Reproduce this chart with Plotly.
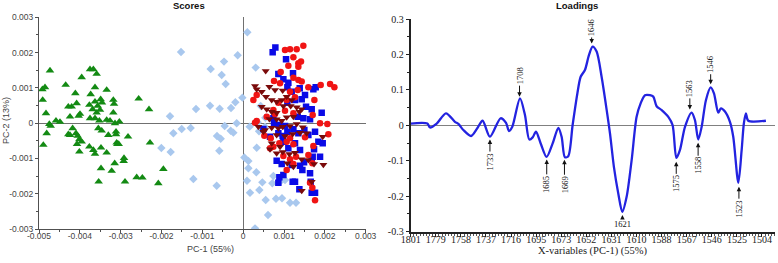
import plotly.graph_objects as go

# ---------------- Scores data (PC-1, PC-2) ----------------
green_x = [-0.004731, -0.004918, -0.004853, -0.004910, -0.004829, -0.004747, -0.004714, -0.004584, -0.004486, -0.004812,
           -0.004894, -0.004347, -0.004110, -0.004200, -0.004078, -0.004282, -0.003955, -0.004241, -0.003996, -0.004029,
           -0.004176, -0.004282, -0.004241, -0.004094, -0.004053, -0.004012, -0.003955, -0.004069, -0.004012, -0.003751,
           -0.003669, -0.003588, -0.003629, -0.003735, -0.003767, -0.003629, -0.003563, -0.003490, -0.003686, -0.003588,
           -0.003751, -0.003629, -0.003522, -0.003343, -0.003457, -0.003506, -0.003343, -0.003547, -0.003465, -0.003767,
           -0.003669, -0.003629, -0.003482, -0.003343, -0.003482, -0.003539, -0.003302, -0.003180, -0.003163, -0.003180,
           -0.003261, -0.003139, -0.003114, -0.003114, -0.003033, -0.003098, -0.003082, -0.003049, -0.003147, -0.003220,
           -0.002918, -0.002927, -0.002820, -0.002894, -0.002608, -0.002469, -0.002559, -0.002306, -0.002282, -0.002078,
           -0.001955]
green_y = [0.001489, 0.000959, 0.001016, 0.000657, 0.000279, -0.000024, -0.000080, 0.000071, 0.000033, -0.000288,
           -0.000619, 0.001082, 0.000846, 0.000468, 0.000562, 0.000468, 0.001300, 0.000184, 0.000260, 0.000203,
           -0.000147, -0.000317, -0.000336, -0.000288, -0.000364, -0.000458, -0.000525, -0.000591, -0.000808, 0.001526,
           0.001526, 0.001394, 0.001016, 0.000818, 0.000515, 0.000610, 0.000487, 0.000676, 0.000392, 0.000298,
           0.000137, 0.000137, 0.000071, 0.000940, 0.000581, 0.000373, 0.000090, -0.000147, -0.000213, -0.000666,
           -0.000761, -0.000874, -0.000695, -0.000836, -0.001281, -0.001659, -0.000336, 0.000657, 0.000543, 0.000298,
           0.000071, -0.000005, -0.000241, -0.000317, 0.000043, -0.000553, -0.000591, -0.000591, -0.001139, -0.001356,
           -0.000988, -0.001073, -0.000383, -0.001659, -0.001536, -0.001545, 0.000695, 0.000392, -0.000553, -0.001706,
           -0.001300]

lblue_x = [0.000102, -0.001522, -0.000135, -0.000469, -0.000796, -0.000527, -0.000429, 0.000306, -0.001155, -0.000812,
           -0.000576, -0.000298, -0.000192, -0.000020, 0.000429, -0.001792, -0.001506, -0.001286, -0.001710, -0.002004,
           -0.001776, -0.000159, -0.000453, -0.000306, -0.000241, 0.000159, 0.000355, 0.000543, 0.000535, 0.000388,
           -0.000641, -0.000551, -0.000584, 0.000331, 0.000029, 0.000127, 0.000127, 0.000322, 0.000094, 0.000469,
           0.000714, -0.001220, -0.000649, 0.000167, 0.000396, 0.000551, 0.000804, 0.000951, 0.001147, 0.001294,
           0.000608, 0.000290, 0.000739, 0.000902, 0.001024]
lblue_y = [0.002576, 0.002018, 0.001923, 0.001744, 0.001536, 0.001366, 0.001111, 0.001574, 0.000402, 0.000496,
           0.000411, 0.000430, 0.000591, 0.000723, 0.000487, 0.000194, -0.000165, -0.000137, -0.000288, -0.000704,
           -0.000817, -0.000005, -0.000080, -0.000213, -0.000269, -0.000099, 0.000024, 0.000156, -0.000099, -0.000232,
           -0.000364, -0.000440, -0.000780, -0.000695, -0.000974, -0.001073, -0.001281, -0.001394, -0.001630, -0.001678,
           -0.001706, -0.001583, -0.001772, -0.001971, -0.001895, -0.002179, -0.002141, -0.002131, -0.002254, -0.002254,
           -0.002604, -0.002982, -0.001498, -0.001659, -0.001612]

blue_x = [0.000788, 0.000722, 0.001049, 0.000861, 0.001220, 0.000984, 0.001106, 0.001082, 0.001188, 0.001384,
          0.001514, 0.001718, 0.001776, 0.001269, 0.001433, 0.001082, 0.001539, 0.001678, 0.001922, 0.001335,
          0.001473, 0.001637, 0.000739, 0.000755, 0.000902, 0.001024, 0.000494, 0.000657, 0.000861, 0.000967,
          0.001082, 0.001229, 0.001351, 0.001498, 0.001596, 0.001759, 0.001841, 0.001947, 0.000984, 0.001106,
          0.001269, 0.001392, 0.001702, 0.001882, 0.000820, 0.000943, 0.001188, 0.001392, 0.001490, 0.001678,
          0.001449, 0.001637, 0.001735, 0.000984, 0.000886, 0.000861, 0.001212, 0.001269, 0.001376, 0.001678,
          0.001759, 0.001653]
blue_y = [0.002141, 0.002008, 0.001810, 0.001394, 0.001413, 0.001243, 0.001148, 0.001016, 0.000893, 0.000988,
          0.000799, 0.000959, 0.001016, 0.000657, 0.000676, 0.000581, 0.000468, 0.000392, 0.000298, 0.000184,
          0.000137, 0.000109, 0.000137, -0.000024, -0.000052, -0.000080, -0.000165, -0.000383, -0.000288, -0.000364,
          -0.000241, -0.000175, -0.000288, -0.000194, -0.000336, -0.000241, -0.000525, -0.000572, -0.000525, -0.000714,
          -0.000572, -0.000761, -0.000950, -0.000950, -0.001063, -0.001158, -0.001186, -0.001205, -0.001111, -0.000997,
          -0.001328, -0.001422, -0.000742, -0.001470, -0.001536, -0.001687, -0.001659, -0.001659, -0.001876, -0.001971,
          -0.001971, -0.001659]

red_x = [0.001024, 0.001147, 0.001310, 0.001473, 0.001229, 0.001351, 0.001416, 0.001351, 0.001106, 0.000918,
         0.000755, 0.000902, 0.001229, 0.001351, 0.001433, 0.001147, 0.001335, 0.001596, 0.001898, 0.002127,
         0.002233, 0.001743, 0.001269, 0.001065, 0.000861, 0.000739, 0.001024, 0.001229, 0.001702, 0.001882,
         0.002061, 0.000331, 0.000290, 0.000576, 0.000780, 0.000518, 0.000673, 0.000739, 0.000657, 0.000886,
         0.001065, 0.001147, 0.001229, 0.001514, 0.001718, 0.002086, 0.000984, 0.001147, 0.001229, 0.001294,
         0.001596, 0.001694, 0.001065, 0.001637, 0.001694, 0.001759, 0.000249, 0.000331]
red_y = [0.002074, 0.002093, 0.002093, 0.002197, 0.001867, 0.001697, 0.001744, 0.001602, 0.001630, 0.001451,
         0.001196, 0.001129, 0.001290, 0.001224, 0.001177, 0.000893, 0.000940, 0.001016, 0.001082, 0.001111,
         0.001016, 0.000657, 0.000733, 0.000657, 0.000581, 0.000373, 0.000354, 0.000279, 0.000232, -0.000005,
         -0.000024, 0.000061, 0.000014, 0.000184, 0.000260, -0.000354, -0.000430, -0.000666, -0.000714, -0.000572,
         -0.000525, -0.000430, -0.000600, -0.000402, -0.000647, -0.000317, -0.000931, -0.001026, -0.001158, -0.000950,
         -0.000903, -0.001139, -0.001328, -0.001687, -0.001829, -0.002188, 0.000657, 0.000799]

dred_x = [0.000551, 0.000290, 0.000331, 0.000453, 0.000641, 0.000780, 0.000967, 0.000559, 0.000698, 0.000820,
          0.000943, 0.001065, 0.001188, 0.000453, 0.000576, 0.000698, 0.000820, 0.000984, 0.001163, 0.001310,
          0.000641, 0.000820, 0.000943, 0.001065, 0.001229, 0.001376, 0.001433, 0.000371, 0.000535, 0.000698,
          0.000861, 0.000967, 0.001147, 0.001310, 0.001457, 0.000820, 0.001024, 0.001212, 0.001392, 0.001555,
          0.000657, 0.000820, 0.000967, 0.001131, 0.001269, 0.001433, 0.001596, 0.001735, 0.001963, 0.001947,
          0.001082, 0.001229, 0.001678, 0.001433, 0.000494, 0.000698, 0.000902]
dred_y = [0.001479, 0.001054, 0.000959, 0.000893, 0.001035, 0.000940, 0.000922, 0.000751, 0.000657, 0.000610,
          0.000657, 0.000751, 0.000657, 0.000468, 0.000392, 0.000326, 0.000298, 0.000487, 0.000487, 0.000449,
          0.000118, 0.000109, 0.000071, 0.000165, 0.000184, 0.000326, 0.000392, -0.000099, -0.000194, -0.000128,
          -0.000147, -0.000099, -0.000080, -0.000024, -0.000118, -0.000336, -0.000364, -0.000307, -0.000269, -0.000288,
          -0.000742, -0.000855, -0.000817, -0.000874, -0.000836, -0.001026, -0.001045, -0.001158, -0.001177, -0.000383,
          -0.001139, -0.001233, -0.001659, -0.001914, -0.000241, -0.000572, -0.000666]

score_xticks = [-0.005, -0.004, -0.003, -0.002, -0.001, 0, 0.001, 0.002, 0.003]
score_xtext = ["-0.005", "-0.004", "-0.003", "-0.002", "-0.001", "0", "0.001", "0.002", "0.003"]
score_yticks = [-0.003, -0.002, -0.001, 0, 0.001, 0.002, 0.003]
score_ytext = ["-0.003", "-0.002", "-0.001", "0", "0.001", "0.002", "0.003"]

# ---------------- Loadings data ----------------
wavenumber = [1801.0, 1786.9, 1784.7, 1779.0, 1771.2, 1763.6, 1760.7, 1756.5, 1750.0, 1744.7,
              1740.2, 1734.0, 1725.0, 1720.4, 1717.9, 1715.1, 1708.6, 1704.4, 1700.7, 1697.9,
              1695.1, 1691.1, 1686.1, 1681.0, 1676.2, 1673.4, 1670.6, 1667.8, 1664.1, 1660.1,
              1657.3, 1653.7, 1650.3, 1647.2, 1643.8, 1639.6, 1635.3, 1632.5, 1629.2, 1625.5,
              1622.1, 1618.4, 1614.2, 1610.0, 1606.6, 1602.9, 1598.7, 1595.9, 1593.1, 1588.8,
              1583.2, 1579.6, 1576.4, 1573.4, 1569.1, 1563.5, 1560.7, 1557.9, 1555.0, 1551.4,
              1547.4, 1544.6, 1541.0, 1538.7, 1535.3, 1531.1, 1528.3, 1524.0, 1521.2, 1519.3,
              1517.6, 1515.6, 1500.7]
loading = [0.005, 0.005, -0.006, 0.005, 0.034, 0.010, 0.004, -0.013, -0.030, -0.008,
           0.013, -0.032, 0.020, 0.007, -0.016, -0.004, 0.076, 0.029, -0.040, -0.034,
           -0.018, -0.051, -0.089, -0.051, -0.007, -0.032, -0.090, -0.087, 0.001, 0.090,
           0.137, 0.156, 0.198, 0.222, 0.208, 0.137, 0.043, -0.023, -0.117, -0.192,
           -0.244, -0.201, -0.098, 0.024, 0.062, 0.085, 0.085, 0.081, 0.054, 0.043,
           0.024, 0.001, -0.092, -0.070, -0.004, 0.036, 0.015, -0.040, -0.004, 0.071,
           0.107, 0.090, 0.036, 0.048, 0.039, 0.010, -0.032, -0.162, -0.070, 0.006,
           0.034, 0.013, 0.013]

load_xticks = [1801, 1779.79, 1758.57, 1737.36, 1716.14, 1694.93, 1673.71, 1652.5,
               1631.29, 1610.07, 1588.86, 1567.64, 1546.43, 1525.21, 1504]
load_xtext = ["1801", "1779", "1758", "1737", "1716", "1695", "1673", "1652",
              "1631", "1610", "1588", "1567", "1546", "1525", "1504"]
load_yticks = [-0.3, -0.2, -0.1, 0, 0.1, 0.2, 0.3]
load_ytext = ["-0.3", "-0.2", "-0.1", "0", "0.1", "0.2", "0.3"]

peak_labels = ["1733", "1708", "1685", "1669", "1646", "1621", "1575", "1563", "1558", "1546", "1523"]
peak_x = [1734.0, 1709.0, 1686.0, 1671.0, 1648.0, 1622.0, 1576.5, 1565.0, 1558.0, 1547.4, 1523.5]
peak_tip = [-0.040, 0.081, -0.096, -0.097, 0.231, -0.253, -0.103, 0.045, -0.049, 0.116, -0.173]

# style: pixel offsets of the label from the arrow tip, and angle
label_ay = [22, -21, 25, 25, -16, 9, 22, -21, 23, -20, 22]
label_angle = [-90, -90, -90, -90, -90, 0, -90, -90, -90, -90, -90]

W, H = 778, 263
SANS = "Liberation Sans, Arial, sans-serif"
SERIF = "Liberation Serif, Times New Roman, serif"

fig = go.Figure()

def add_group(x, y, symbol, color, size):
    fig.add_trace(go.Scatter(x=x, y=y, mode="markers", xaxis="x", yaxis="y",
                             marker=dict(symbol=symbol, color=color, size=size,
                                         line=dict(width=0)),
                             showlegend=False, hoverinfo="skip"))

add_group(green_x, green_y, "triangle-up", "#138a13", 7.5)
add_group(lblue_x, lblue_y, "diamond", "#a9c8ee", 6.5)
add_group(blue_x, blue_y, "square", "#0a0ae6", 6.5)
add_group(red_x, red_y, "circle", "#f01414", 6.5)
add_group(dred_x, dred_y, "triangle-down", "#7a0a0a", 7)

fig.add_trace(go.Scatter(x=wavenumber, y=loading, mode="lines", xaxis="x2", yaxis="y2",
                         line=dict(color="#2323e0", width=2.3, shape="spline", smoothing=0.8),
                         showlegend=False, hoverinfo="skip"))

def px_x(p):
    return p / W

def px_y(p):
    return 1 - p / H

def label(text, x, y, font, angle=0):
    return dict(text=text, x=px_x(x), y=px_y(y), xref="paper", yref="paper",
                xanchor="center", yanchor="middle", showarrow=False,
                textangle=angle, font=font)

annotations = [
    label("<b>Scores</b>", 188.5, 5.5, dict(family=SANS, size=9.5, color="#111")),
    label("PC-1 (55%)", 210, 248.5, dict(family=SANS, size=9, color="#444")),
    label("PC-2 (13%)", 6, 121, dict(family=SANS, size=9, color="#444"), -90),
    label("<b>Loadings</b>", 577, 5.5, dict(family=SANS, size=9.5, color="#111")),
    label("X-variables (PC-1) (55%)", 593, 250.5, dict(family=SERIF, size=10.5, color="#222")),
]
for lab, xv, yv, ay, ang in zip(peak_labels, peak_x, peak_tip, label_ay, label_angle):
    annotations.append(dict(text=lab, x=xv, y=yv, xref="x2", yref="y2", ax=0, ay=ay,
                            textangle=ang, showarrow=True, arrowhead=2, arrowsize=0.9,
                            arrowwidth=1, arrowcolor="#111", standoff=0,
                            font=dict(family=SERIF, size=8.5, color="#111")))

fig.update_layout(
    width=W, height=H,
    margin=dict(l=0, r=0, t=0, b=0, autoexpand=False),
    paper_bgcolor="white", plot_bgcolor="white",
    annotations=annotations,
    xaxis=dict(domain=[px_x(39), px_x(365.7)], range=[-0.005, 0.003], anchor="y",
               automargin=False, ticklabelstandoff=-4, ticklabeloverflow="allow",
               tickmode="array", tickvals=score_xticks, ticktext=score_xtext,
               showgrid=False, zeroline=True, zerolinecolor="#707070", zerolinewidth=1,
               showline=True, linecolor="#505050", linewidth=1,
               ticks="outside", ticklen=3, tickcolor="#505050",
               minor=dict(ticks="outside", ticklen=2, dtick=0.0005, tick0=0, tickcolor="#505050"),
               tickfont=dict(family=SANS, size=8.5, color="#444")),
    yaxis=dict(domain=[px_y(229), px_y(17.3)], range=[-0.003, 0.003], anchor="x",
               automargin=False, ticklabeloverflow="allow",
               tickmode="array", tickvals=score_yticks, ticktext=score_ytext,
               showgrid=False, zeroline=True, zerolinecolor="#707070", zerolinewidth=1,
               showline=True, linecolor="#505050", linewidth=1,
               ticks="outside", ticklen=3, tickcolor="#505050",
               minor=dict(ticks="outside", ticklen=2, dtick=0.0005, tick0=0, tickcolor="#505050"),
               tickfont=dict(family=SANS, size=8.5, color="#444")),
    xaxis2=dict(domain=[px_x(410.7), px_x(775)], range=[1801, 1493], anchor="y2",
                automargin=False, ticklabelstandoff=-6, ticklabeloverflow="allow",
                tickmode="array", tickvals=load_xticks, ticktext=load_xtext,
                showgrid=False, zeroline=False,
                showline=True, linecolor="#222", linewidth=2,
                ticks="outside", ticklen=3, tickcolor="#222",
                minor=dict(ticks="outside", ticklen=2, dtick=2.6518, tick0=1801, tickcolor="#555"),
                tickfont=dict(family=SERIF, size=10, color="#222")),
    yaxis2=dict(domain=[px_y(231.7), px_y(19)], range=[-0.3, 0.3], anchor="x2",
                automargin=False, ticklabeloverflow="allow",
                tickmode="array", tickvals=load_yticks, ticktext=load_ytext,
                showgrid=False, zeroline=True, zerolinecolor="#808080", zerolinewidth=1,
                showline=True, linecolor="#222", linewidth=2,
                ticks="outside", ticklen=3, tickcolor="#222",
                minor=dict(ticks="outside", ticklen=2, dtick=0.05, tick0=0, tickcolor="#222"),
                tickfont=dict(family=SERIF, size=10, color="#222")),
)

fig.write_html("out.html", config={"displayModeBar": False},
               post_script="document.body.style.margin='0px';document.body.style.overflow='hidden';")
